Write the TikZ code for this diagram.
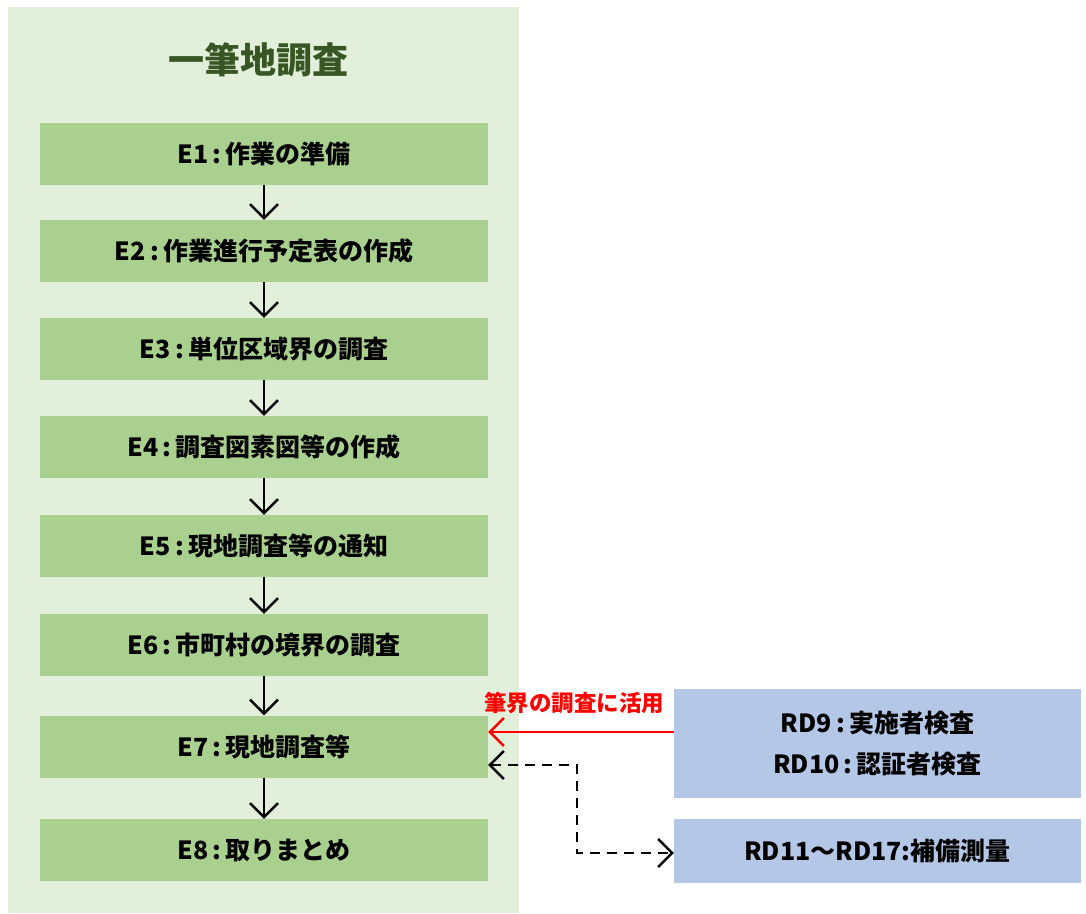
\documentclass[tikz,border=0pt]{standalone}
\usepackage{fontspec}
\setmainfont{Noto Sans CJK JP}
\usetikzlibrary{arrows.meta}
\definecolor{panel}{HTML}{E2EFDA}
\definecolor{stepgreen}{HTML}{A9D08E}
\definecolor{titlegreen}{HTML}{375623}
\definecolor{rdblue}{HTML}{B4C7E7}
\newcommand{\csep}{\,:\,}
\tikzset{
  ebox/.style={fill=stepgreen, draw=none, minimum width=448pt, minimum height=62pt, inner sep=0pt, font=\fontsize{25}{30}\selectfont\bfseries},
  rdbox/.style={fill=rdblue, draw=none, minimum width=407pt, inner sep=0pt, align=center, font=\fontsize{25}{41}\selectfont\bfseries},
  tipv/.tip={Straight Barb[length=14pt,width=28pt,line width=2.4pt]},
  flow/.style={line width=2.4pt, -tipv},
  redflow/.style={line width=2.4pt, draw=red, -tipv},
  dashflow/.style={line width=2.4pt, dash pattern=on 10pt off 7pt, tipv-tipv}
}
\begin{document}
\begin{tikzpicture}[x=1pt,y=-1pt]
\useasboundingbox (0,0) rectangle (1086,913);
\fill[white] (0,0) rectangle (1086,913);
\fill[panel] (8,7) rectangle (519,913);
\node[text=titlegreen, font=\fontsize{36}{40}\selectfont\bfseries] (title) at (258,60) {一筆地調査};
\node[ebox] (e1) at (264,154) {E1\csep 作業の準備};
\node[ebox] (e2) at (264,251) {E2\csep 作業進行予定表の作成};
\node[ebox] (e3) at (264,349) {E3\csep 単位区域界の調査};
\node[ebox] (e4) at (264,447) {E4\csep 調査図素図等の作成};
\node[ebox] (e5) at (264,546) {E5\csep 現地調査等の通知};
\node[ebox] (e6) at (264,645) {E6\csep 市町村の境界の調査};
\node[ebox] (e7) at (264,746.5) {E7\csep 現地調査等};
\node[ebox] (e8) at (264,850) {E8\csep 取りまとめ};
\foreach \a/\b in {e1/e2,e2/e3,e3/e4,e4/e5,e5/e6,e6/e7,e7/e8}
  \draw[flow] (\a.south) -- (\b.north);
\node[rdbox, minimum height=109pt] (rd9) at (877.5,743.5) {RD9\csep 実施者検査\\RD10\csep 認証者検査};
\node[rdbox, minimum height=64pt] (rd11) at (877.5,851) {RD11～RD17:補備測量};
\draw[redflow] (rd9.west |- 0,732) coordinate (rs) -- (e7.east |- 0,732) coordinate (re);
\node[text=red, font=\fontsize{22.5}{26}\selectfont\bfseries] (lbl) at (574,703) {筆界の調査に活用};
\coordinate (d1) at (577,765);
\coordinate (d2) at (577,853);
\draw[dashflow] (e7.east |- d1) -- (d1) -- (d2) -- (rd11.west |- d2);
\end{tikzpicture}
\end{document}
